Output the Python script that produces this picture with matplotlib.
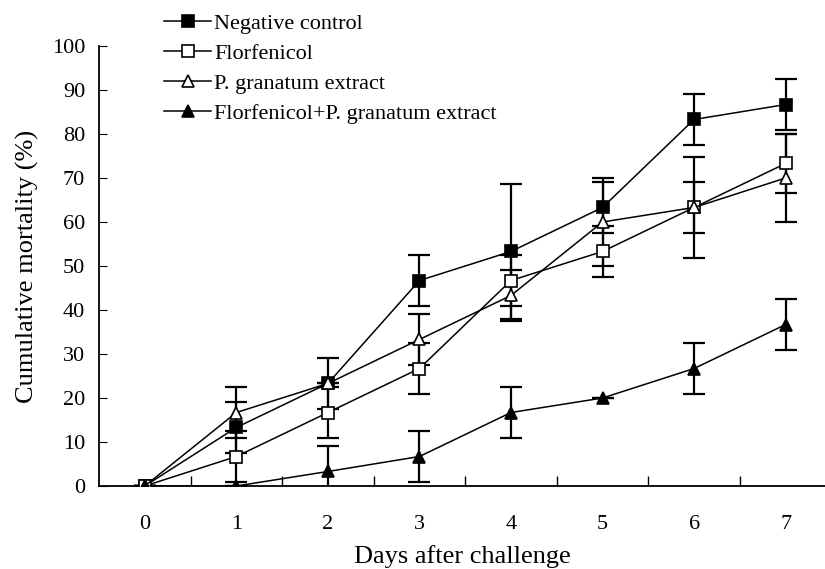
import matplotlib.pyplot as plt
import numpy as np

plt.rcParams['font.family'] = ['Liberation Serif', 'DejaVu Serif']

# days after challenge
days = [0, 1, 2, 3, 4, 5, 6, 7]

# cumulative mortality (%) and SD for each group
neg_control = [0, 13.3, 23.3, 46.7, 53.3, 63.3, 83.3, 86.7]
neg_control_sd = [0, 5.8, 5.8, 5.8, 15.3, 5.8, 5.8, 5.8]

florfenicol = [0, 6.7, 16.7, 26.7, 46.7, 53.3, 63.3, 73.3]
florfenicol_sd = [0, 5.8, 5.8, 5.8, 5.8, 5.8, 11.5, 6.7]

pg_extract = [0, 16.7, 23.3, 33.3, 43.3, 60.0, 63.3, 70.0]
pg_extract_sd = [0, 5.8, 0, 5.8, 5.8, 10.0, 5.8, 10.0]

combo = [0, 0, 3.3, 6.7, 16.7, 20.0, 26.7, 36.7]
combo_sd = [0, 0, 5.8, 5.8, 5.8, 0, 5.8, 5.8]

labels = ["Negative control", "Florfenicol", "P. granatum extract",
          "Florfenicol+P. granatum extract"]

fig = plt.figure(figsize=(8.25, 5.69), dpi=100)
ax = fig.add_axes([99 / 825, 83 / 569, 726 / 825, 440 / 569])

series = [
    (neg_control, neg_control_sd, 's', 'black', 8),
    (florfenicol, florfenicol_sd, 's', 'white', 8),
    (pg_extract, pg_extract_sd, '^', 'white', 9),
    (combo, combo_sd, '^', 'black', 9),
]

handles = []
for (vals, sd, mk, fc, ms), lab in zip(series, labels):
    ax.errorbar(days, vals, yerr=sd, fmt='none', ecolor='black',
                elinewidth=1.6, capsize=8, capthick=1.6, zorder=2)
    h, = ax.plot(days, vals, color='black', linewidth=1.1, marker=mk,
                 markersize=ms, markerfacecolor=fc, markeredgecolor='black',
                 markeredgewidth=1.2, label=lab, zorder=3)
    handles.append(h)

ax.set_xlim(-0.5, 7.43)
ax.set_ylim(0, 100)
ax.set_yticks(np.arange(0, 101, 10))
ax.set_xticks(days)
ax.set_xticks(np.arange(0.5, 7.5, 1), minor=True)
ax.tick_params(axis='x', which='major', length=0, labelsize=16, pad=21)
ax.tick_params(axis='x', which='minor', length=7, direction='in', width=1)
ax.tick_params(axis='y', length=6, direction='in', labelsize=16, pad=10)

for side in ['top', 'right']:
    ax.spines[side].set_visible(False)
for side in ['left', 'bottom']:
    ax.spines[side].set_linewidth(1.3)

ax.set_xlabel("Days after challenge", fontsize=19, labelpad=8)
ax.set_ylabel("Cumulative mortality (%)", fontsize=19, labelpad=9)

ax.legend(handles=handles, loc='upper left', bbox_to_anchor=(151 / 825, 1.0),
          bbox_transform=fig.transFigure, frameon=False, fontsize=16,
          handlelength=2.1, handletextpad=0.15, labelspacing=0.42,
          borderaxespad=0.2)

plt.savefig("out.png", dpi=100)
